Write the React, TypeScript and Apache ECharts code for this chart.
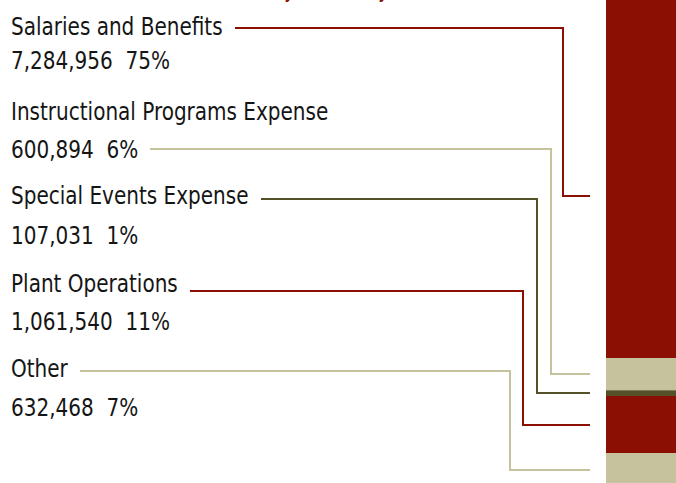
import React, { useEffect, useRef } from 'react';
import * as echarts from 'echarts';

// ---- data ----
const categories = [
  'Salaries and Benefits',
  'Instructional Programs Expense',
  'Special Events Expense',
  'Plant Operations',
  'Other',
];
const amounts = [7284956, 600894, 107031, 1061540, 632468];
const percents = [75, 6, 1, 11, 7];
const titleText = 'Yearly Summary';

// ---- styles / layout ----
const colors = ['#8B0F02', '#C7C29E', '#545128', '#8B0F02', '#C7C29E'];
const FONT = "'DejaVu Sans Condensed', 'Liberation Sans Narrow', sans-serif";
const FONT_SIZE = 25;
const SCALE_X = 0.89;
const TEXT_X = 11;
const LABEL_Y = [27, 112, 196, 284, 369];
const VALUE_Y = [61, 150, 236, 322, 408];
const LINE_Y = [28, 149, 199, 291, 371];
const LINE_ROW = ['label', 'value', 'label', 'label', 'label'];
const BEND_X = [563, 551, 537, 523, 510];
const LINE_END_X = 590;
const LINE_GAP = 12;
const ANCHOR_FRAC = [0.586, 0.5, 0.5, 0.5, 0.5];
const BAR_LEFT = 606;
const AXIS_MIN = 616848;
const AXIS_MAX = 9613206;
const TITLE_Y1_X = 286; // where first "y" sits
const TITLE_Y_SPAN = 94; // distance between the two "y" glyphs
const TITLE_Y = -12;

const fmt = (n: number) => n.toLocaleString('en-US');

export default function App() {
  const ref = useRef<HTMLDivElement>(null);
  useEffect(() => {
    document.body.style.margin = '0';
    const chart = echarts.init(ref.current!, null, { renderer: 'svg' });
    const series = categories.map((name, i) => ({
      name,
      type: 'bar',
      stack: 'total',
      barWidth: '100%',
      clip: true,
      silent: true,
      data: [amounts[i]],
      itemStyle: { color: colors[i] },
    }));
    chart.setOption({
      animation: false,
      grid: { left: BAR_LEFT, right: 0, top: 0, bottom: 0 },
      xAxis: { type: 'category', data: ['Total'], show: false },
      yAxis: { type: 'value', inverse: true, min: AXIS_MIN, max: AXIS_MAX, show: false },
      series,
    });

    const ctx = document.createElement('canvas').getContext('2d')!;
    const titleFont = `italic ${FONT_SIZE}px ${FONT}`;
    ctx.font = titleFont;
    const firstY = titleText.indexOf('y');
    const lastY = titleText.lastIndexOf('y');
    const wA = ctx.measureText(titleText.slice(0, firstY)).width;
    const wB = ctx.measureText(titleText.slice(0, lastY)).width;
    const tScale = TITLE_Y_SPAN / (wB - wA);
    const elements: any[] = [];
    elements.push({
      type: 'text',
      x: TITLE_Y1_X - wA * tScale,
      y: TITLE_Y,
      scaleX: tScale,
      style: {
        text: titleText,
        font: titleFont,
        fill: '#8B0F02',
        verticalAlign: 'middle',
      },
    });

    ctx.font = `${FONT_SIZE}px ${FONT}`;
    let cum = 0;
    categories.forEach((name, i) => {
      const start = cum;
      cum += amounts[i];
      const anchor = start + amounts[i] * ANCHOR_FRAC[i];
      const ty = Math.round(chart.convertToPixel({ yAxisIndex: 0 }, anchor) as number);
      const valueText = `${fmt(amounts[i])}  ${percents[i]}%`;
      elements.push({
        type: 'text',
        x: TEXT_X,
        y: LABEL_Y[i],
        scaleX: SCALE_X,
        style: { text: name, font: `${FONT_SIZE}px ${FONT}`, fill: '#151515', verticalAlign: 'middle' },
      });
      elements.push({
        type: 'text',
        x: TEXT_X,
        y: VALUE_Y[i],
        scaleX: SCALE_X,
        style: { text: valueText, font: `${FONT_SIZE}px ${FONT}`, fill: '#151515', verticalAlign: 'middle' },
      });
      const rowText = LINE_ROW[i] === 'label' ? name : valueText;
      const w = ctx.measureText(rowText).width * SCALE_X;
      const x0 = Math.round(TEXT_X + w + LINE_GAP);
      elements.push({
        type: 'polyline',
        silent: true,
        shape: {
          points: [
            [x0, LINE_Y[i]],
            [BEND_X[i], LINE_Y[i]],
            [BEND_X[i], ty],
            [LINE_END_X, ty],
          ],
        },
        style: { stroke: colors[i], lineWidth: 2, fill: 'none' },
      });
    });
    chart.setOption({ graphic: { elements } });
    return () => chart.dispose();
  }, []);
  return <div ref={ref} style={{ width: 676, height: 483 }} />;
}
